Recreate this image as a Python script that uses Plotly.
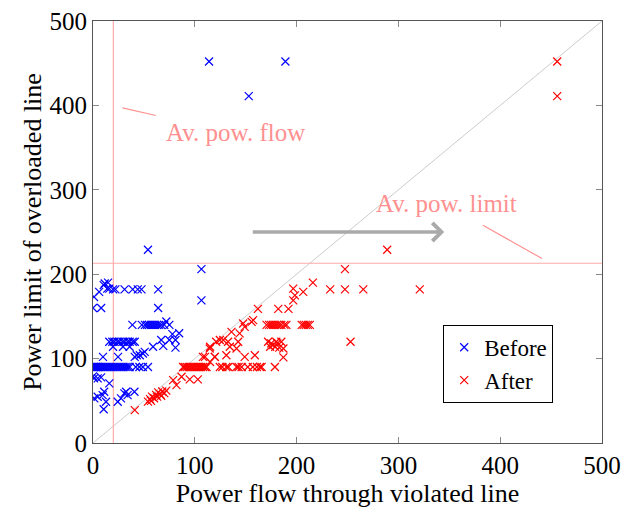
import plotly.graph_objects as go

# ---- data ----
before_x = [114, 189, 153, 54, 106.5, 106.5,
            1, 6, 11.5, 14.8, 10.5, 14, 16, 19.7, 22, 31, 39, 44, 47.6, 64,
            0, 8, 64,
            38.7, 48, 51, 53, 55, 57, 59, 61, 63, 65, 67, 70, 72, 75,
            78, 84.6, 75, 81, 81, 67, 69, 59, 50.8,
            16, 19, 21, 24, 26, 29, 31, 34, 36, 39, 41,
            19.7, 29.5, 36,
            9.8, 24.6, 41, 46, 49, 43,
            0, 1, 2, 3, 4, 5, 6, 8, 10, 12, 14, 16, 18, 20, 22, 24, 26, 28, 30, 32, 34, 36, 42, 45.6, 49, 54,
            0, 1, 4.6, 8, 16,
            11, 9.5, 4.6, 1.3, 12.8, 10.5,
            24.3, 27.5, 30.8, 32.5, 34, 40.7]
before_y = [452, 452, 411, 229, 206, 169,
            173, 179, 189, 190, 187, 183, 183, 182, 182, 182, 182, 182, 182, 182,
            160, 160, 160,
            140, 140, 140, 140, 140, 140, 140, 140, 140, 140, 140, 140, 144, 140,
            129, 130, 122, 122, 113, 122, 115, 114, 108,
            120, 120, 120, 120, 120, 120, 120, 120, 120, 120, 120,
            114, 114, 114,
            102, 102, 102, 104, 106, 104,
            90, 90, 90, 90, 90, 90, 90, 90, 90, 90, 90, 90, 90, 90, 90, 90, 90, 90, 90, 90, 90, 90, 90, 90, 90, 90,
            79, 76.6, 76.6, 77.8, 70.6,
            60.7, 56.8, 54.8, 52.9, 48.9, 40,
            48.9, 52.9, 58.8, 60.7, 56.8, 60.7]

after_x = [456, 456, 289, 247.5, 321, 233, 247.5, 265.5, 216, 253,
           196.7, 206.5, 198.3, 196.7, 182, 192, 162,
           170.5, 173, 175, 177, 179, 181, 183, 185, 188, 190, 205, 207, 209, 211, 213,
           172, 175, 177, 179, 181, 183, 185, 187, 174, 180,
           187, 178.7, 165.6,
           136, 142.6, 144, 147.5, 155.8, 157.3, 149,
           131, 132.7, 134.4, 115, 121, 124.6, 110, 115, 119.6, 128, 141, 114.7,
           124.6, 127, 131, 133, 141, 143, 146, 149, 152, 157, 161, 164, 159, 108, 119.7,
           88.5, 90, 92, 94, 96, 98, 100, 102, 104, 106, 108, 110, 111.5,
           78.7, 82, 87, 95, 103,
           54, 56, 58, 60, 62, 64, 66, 68, 70, 72, 57, 63, 67,
           41]
after_y = [452, 411, 229, 206, 182, 182, 182, 182, 190, 120,
           183, 179, 175, 169, 159, 159, 159,
           140, 140, 140, 140, 140, 140, 140, 140, 140, 140, 140, 140, 140, 140, 140,
           120, 118, 116, 114, 118, 113, 120, 112, 114, 120,
           101.4, 90, 90,
           131.7, 120, 129.8, 141.6, 143.6, 145.6, 137.6,
           104, 120, 114, 114, 120, 122, 102, 96, 102, 122, 112, 112,
           90, 90, 90, 90, 90, 90, 90, 102, 90, 90, 90, 90, 104, 102, 102,
           90, 90, 90, 90, 90, 90, 90, 90, 90, 90, 90, 90, 90,
           74.5, 68.6, 78.5, 75.4, 75.4,
           49, 52, 55, 53, 57, 60, 58, 61, 59, 62, 50, 55, 56,
           39]

avg_flow = 20
avg_limit = 213
axis_ticks = [0, 100, 200, 300, 400, 500]

FONT = "Liberation Serif"
FS = 25
TXT = "#ff9090"
LINE_RED = "#ffaaaa"

fig = go.Figure()

# diagonal y = x
fig.add_trace(go.Scatter(x=[0, 500], y=[0, 500], mode="lines",
                         line=dict(color="#cccccc", width=1),
                         showlegend=False, hoverinfo="skip"))
# average lines
fig.add_trace(go.Scatter(x=[avg_flow, avg_flow], y=[0, 500], mode="lines",
                         line=dict(color=LINE_RED, width=1.2),
                         showlegend=False, hoverinfo="skip"))
fig.add_trace(go.Scatter(x=[0, 500], y=[avg_limit, avg_limit], mode="lines",
                         line=dict(color=LINE_RED, width=1.2),
                         showlegend=False, hoverinfo="skip"))

fig.add_trace(go.Scatter(x=before_x, y=before_y, mode="markers", name="Before",
                         marker=dict(symbol="x-thin", size=8,
                                     line=dict(color="blue", width=1.2))))
fig.add_trace(go.Scatter(x=after_x, y=after_y, mode="markers", name="After",
                         marker=dict(symbol="x-thin", size=8,
                                     line=dict(color="red", width=1.2))))

# pointer lines for labels
fig.add_shape(type="line", x0=29, y0=397, x1=61.7, y1=388,
              line=dict(color=TXT, width=1.2), xref="x", yref="y")
fig.add_shape(type="line", x0=383, y0=258, x1=441, y1=218.6,
              line=dict(color=TXT, width=1.2), xref="x", yref="y")

fig.add_annotation(x=140, y=368, text="Av. pow. flow", showarrow=False,
                   font=dict(family=FONT, size=FS, color=TXT))
fig.add_annotation(x=347.5, y=284, text="Av. pow. limit", showarrow=False,
                   font=dict(family=FONT, size=FS, color=TXT))

# gray arrow
fig.add_annotation(x=345, y=250, ax=155.5, ay=250, xref="x", yref="y",
                   axref="x", ayref="y", text="", showarrow=True,
                   arrowhead=4, arrowsize=1.0, arrowwidth=3.5, arrowcolor="#aaaaaa")

axis_common = dict(range=[0, 500], tickvals=axis_ticks, ticks="inside",
                   ticklen=6, tickcolor="#888888", mirror="allticks",
                   showline=True, linecolor="#555555", linewidth=1,
                   showgrid=False, zeroline=False, automargin=False,
                   tickfont=dict(family=FONT, size=FS, color="black"))

fig.update_xaxes(**axis_common,
                 title=dict(text="Power flow through violated line",
                            font=dict(family=FONT, size=26, color="black"),
                            standoff=4))
fig.update_yaxes(**axis_common,
                 title=dict(text="Power limit of overloaded line",
                            font=dict(family=FONT, size=26, color="black"),
                            standoff=0))

fig.update_layout(
    width=621, height=508,
    margin=dict(l=93, r=19, t=21, b=65),
    plot_bgcolor="white", paper_bgcolor="white",
    font=dict(family=FONT, size=FS, color="black"),
    legend=dict(x=0.688, y=0.28, xanchor="left", yanchor="top",
                bordercolor="black", borderwidth=1, bgcolor="white",
                font=dict(family=FONT, size=23), itemwidth=30,
                tracegroupgap=0),
)

fig.write_html("out.html")
